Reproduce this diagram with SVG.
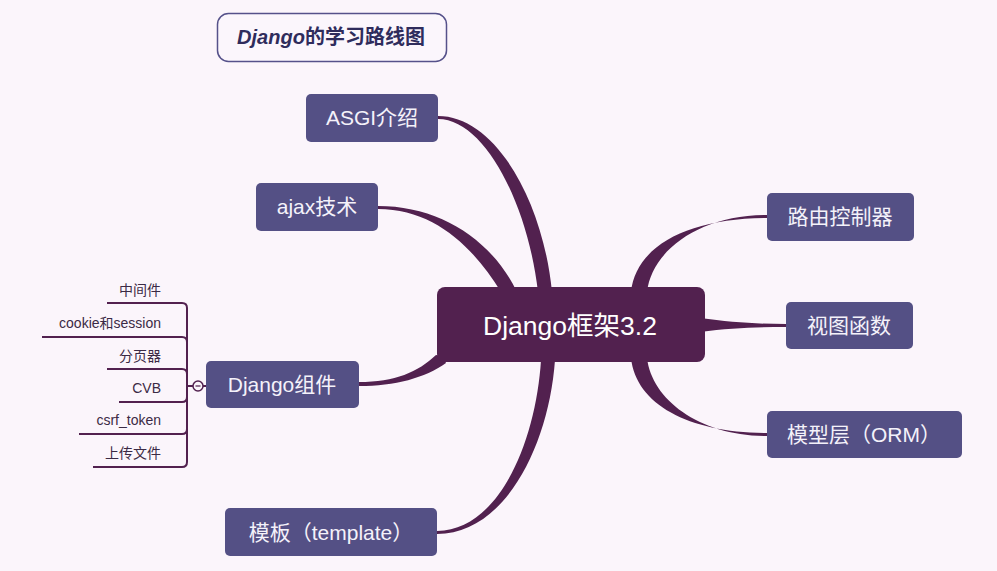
<svg xmlns="http://www.w3.org/2000/svg" width="997" height="571" viewBox="0 0 997 571">
<style>
.bg{fill:#fbf5fb}
.br{fill:#545085}
.bt{fill:#f4f2fa;font-family:"Liberation Sans","Noto Sans CJK SC",sans-serif;font-size:21px;text-anchor:middle}
.ct{fill:#ffffff;font-family:"Liberation Sans","Noto Sans CJK SC",sans-serif;font-size:26.5px;text-anchor:middle}
.ch{fill:#3b2a45;font-family:"Liberation Sans","Noto Sans CJK SC",sans-serif;font-size:14px;text-anchor:end}
.cn{fill:#52214f}
.ln{fill:none;stroke:#52214f;stroke-width:2}
</style>
<rect class="bg" x="0" y="0" width="997" height="571"/>
<g id="connectors">
<path class="cn" d="M438,116 C495,116 543,200 552,292 L538,292 C528,205 485,119 438,119 Z"/>
<path class="cn" d="M378,206 C440,206 492,240 517,292 L501,292 C474,248 435,209 378,209 Z"/>
<path class="cn" d="M767,215 C700,215 652,250 647,292 L631,292 C636,245 690,218 767,218 Z"/>
<path class="cn" d="M767,436 C700,436 652,400 647,358 L631,358 C636,405 690,433 767,433 Z"/>
<path class="cn" d="M700,318 C730,322 755,324 786,324 L786,327 C755,327 730,328 700,332 Z"/>
<path class="cn" d="M359,382 C395,382 418,372 436,355 Q443,355 446,363 C425,378 395,386 359,386 Z"/>
<path class="cn" d="M437,531 C500,530 536,440 541,360 L555,360 C549,445 505,534 437,534 Z"/>
<path class="ln" d="M107,303 H182 Q187,303 187,308 V462 Q187,467 182,467 H93"/>
<path class="ln" d="M42,337 H182 Q187,337 187,342"/>
<path class="ln" d="M107,369 H182 Q187,369 187,374"/>
<path class="ln" d="M119,402 H182 Q187,402 187,397"/>
<path class="ln" d="M79,434 H182 Q187,434 187,429"/>
<path class="ln" d="M187,386 H193 M203,386 H207"/>
<circle cx="198" cy="386" r="5" fill="#fbf5fb" stroke="#52214f" stroke-width="1.5"/>
<path d="M195.5,386 H200.5" stroke="#52214f" stroke-width="1.2"/>
</g>
<g id="title">
<rect x="217.5" y="13.5" width="229" height="48" rx="11" fill="#fbf6fc" stroke="#55518a" stroke-width="1.5"/>
<text x="331" y="44" text-anchor="middle" font-family="'Liberation Sans','Noto Sans CJK SC',sans-serif" font-size="20" font-weight="bold" fill="#2f2c5c"><tspan font-style="italic">Django</tspan>的学习路线图</text>
</g>
<g id="center">
<rect class="cn" x="437" y="287" width="268" height="75" rx="8"/>
<text class="ct" x="570" y="335">Django框架3.2</text>
</g>
<g id="asgi">
<rect class="br" x="306" y="94" width="132" height="48" rx="5"/>
<text class="bt" x="372" y="125">ASGI介绍</text>
</g>
<g id="ajax">
<rect class="br" x="256" y="183" width="122" height="48" rx="5"/>
<text class="bt" x="317" y="214">ajax技术</text>
</g>
<g id="router">
<rect class="br" x="767" y="193" width="147" height="48" rx="5"/>
<text class="bt" x="840" y="224">路由控制器</text>
</g>
<g id="view">
<rect class="br" x="786" y="302" width="127" height="47" rx="5"/>
<text class="bt" x="849" y="333">视图函数</text>
</g>
<g id="model">
<rect class="br" x="767" y="411" width="195" height="47" rx="5"/>
<text class="bt" x="864" y="442">模型层（ORM）</text>
</g>
<g id="components">
<rect class="br" x="206" y="361" width="153" height="47" rx="5"/>
<text class="bt" x="282" y="392">Django组件</text>
</g>
<g id="template">
<rect class="br" x="225" y="508" width="212" height="48" rx="5"/>
<text class="bt" x="331" y="540">模板（template）</text>
</g>
<g id="children">
<text class="ch" x="161" y="295">中间件</text>
<text class="ch" x="161" y="328">cookie和session</text>
<text class="ch" x="161" y="361">分页器</text>
<text class="ch" x="161" y="393">CVB</text>
<text class="ch" x="161" y="425">csrf_token</text>
<text class="ch" x="161" y="458">上传文件</text>
</g>
</svg>
